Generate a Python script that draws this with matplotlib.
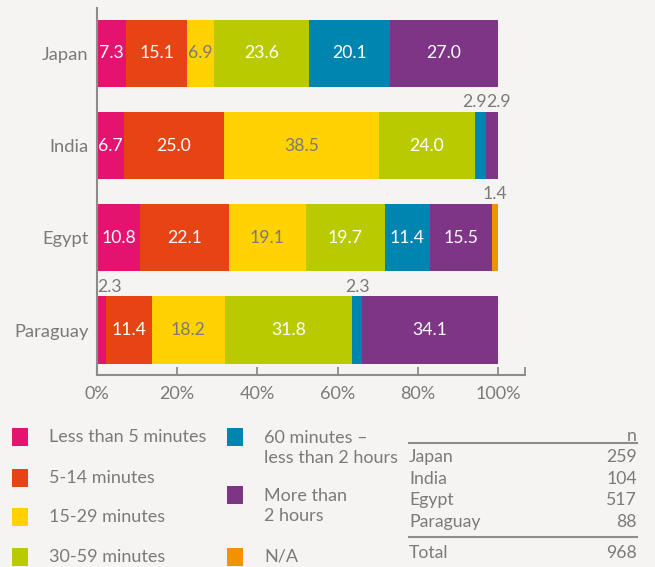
import numpy as np
import matplotlib
matplotlib.use("Agg")
from matplotlib import pyplot as plt
from matplotlib.patches import Rectangle

plt.rcParams['font.family'] = ['Lato', 'DejaVu Sans']

countries = ["Japan", "India", "Egypt", "Paraguay"]
categories = ["Less than 5 minutes", "5-14 minutes", "15-29 minutes", "30-59 minutes",
              "60 minutes \u2013\nless than 2 hours", "More than\n2 hours", "N/A"]
colors = ["#E3136F", "#E64415", "#FFD200", "#B9CB00", "#0085B0", "#7F3585", "#F39200"]
label_colors = ["white", "white", "#7a7a7a", "white", "white", "white", "white"]

japan = [7.3, 15.1, 6.9, 23.6, 20.1, 27.0, 0.0]
india = [6.7, 25.0, 38.5, 24.0, 2.9, 2.9, 0.0]
egypt = [10.8, 22.1, 19.1, 19.7, 11.4, 15.5, 1.4]
paraguay = [2.3, 11.4, 18.2, 31.8, 2.3, 34.1, 0.0]
values = [japan, india, egypt, paraguay]

# small segments get their label above the bar: (country, category) -> alignment
outside = {(1, 4): 'right', (1, 5): 'left', (2, 6): 'center', (3, 0): 'left', (3, 4): 'center'}

sample_n = [259, 104, 517, 88]
total_n = 968

x_ticks = [0, 20, 40, 60, 80, 100]

bg = "#F5F4F2"
grey = "#7a7a7a"
axis_grey = "#8c8c8c"
fs = 12.7

W, H = 655, 567
fig = plt.figure(figsize=(W / 100, H / 100), dpi=100, facecolor=bg)
ax = fig.add_axes([97 / W, 1 - 375 / H, 428 / W, 367 / H], facecolor=bg)

bar_h = 0.727
for i, row in enumerate(values):
    left = 0.0
    for j, v in enumerate(row):
        if v <= 0:
            continue
        ax.barh(i, v, left=left, height=bar_h, color=colors[j], linewidth=0)
        txt = f"{v:.1f}"
        if (i, j) in outside:
            ha = outside[(i, j)]
            xpos = {'left': left, 'right': left + v, 'center': left + v / 2}[ha]
            ax.text(xpos, i - bar_h / 2 - 0.02, txt, ha=ha, va='bottom',
                    color=grey, fontsize=fs)
        else:
            ax.text(left + v / 2, i, txt, ha='center', va='center',
                    color=label_colors[j], fontsize=fs)
        left += v

ax.set_xlim(0, 428 / 4.01)
ax.set_ylim(3 + 45 / 92.17, -45.5 / 92.17)
ax.set_yticks(range(len(countries)))
ax.set_yticklabels(countries, fontsize=13.2, color=grey)
ax.tick_params(axis='y', length=0, pad=6)
ax.set_xticks(x_ticks + [428 / 4.01])
ax.set_xticklabels([f"{t}%" for t in x_ticks] + [""], fontsize=13, color=grey)
ax.tick_params(axis='x', direction='in', length=6, width=1.3, color=axis_grey, pad=8)
for s in ['top', 'right']:
    ax.spines[s].set_visible(False)
for s in ['left', 'bottom']:
    ax.spines[s].set_color(axis_grey)
    ax.spines[s].set_linewidth(1.5)


def fx(px):
    return px / W


def fy(py):
    return 1 - py / H


# legend, two columns of coloured squares
legend_pos = [(12, 437), (12, 478), (12, 517), (12, 557), (227, 437), (227, 495), (227, 557)]
for (px, py), lab, c in zip(legend_pos, categories, colors):
    fig.add_artist(Rectangle((fx(px), fy(py + 9)), 16 / W, 18 / H,
                             transform=fig.transFigure, color=c, linewidth=0))
    ty = py if "\n" not in lab else py + 11
    fig.text(fx(px + 37), fy(ty), lab, ha='left', va='center', color=grey,
             fontsize=fs + 0.3, linespacing=1.25)

# sample size table
tx0, tx1 = 409, 637
fig.text(fx(tx1), fy(436), "n", ha='right', va='center', color=grey, fontsize=fs)
fig.add_artist(plt.Line2D([fx(tx0), fx(tx1)], [fy(443), fy(443)], color=axis_grey, lw=1.5))
for k, (c, n) in enumerate(zip(countries, sample_n)):
    yy = 457 + k * 21.7
    fig.text(fx(tx0), fy(yy), c, ha='left', va='center', color=grey, fontsize=fs)
    fig.text(fx(tx1), fy(yy), str(n), ha='right', va='center', color=grey, fontsize=fs)
fig.add_artist(plt.Line2D([fx(tx0), fx(tx1)], [fy(537), fy(537)], color=axis_grey, lw=1.5))
fig.text(fx(tx0), fy(553), "Total", ha='left', va='center', color=grey, fontsize=fs)
fig.text(fx(tx1), fy(553), str(total_n), ha='right', va='center', color=grey, fontsize=fs)

fig.savefig("out.png", dpi=100, facecolor=bg)
